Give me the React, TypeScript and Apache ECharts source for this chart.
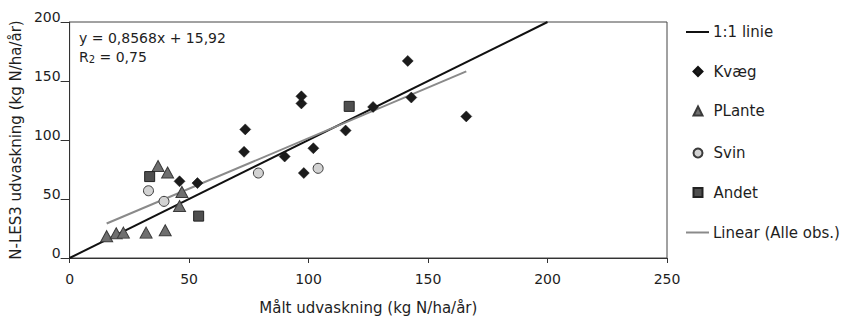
import React, { useEffect, useRef } from "react";
import * as echarts from "echarts";

// ---- data ----
const xTicks = [0, 50, 100, 150, 200, 250];
const yTicks = [0, 50, 100, 150, 200];

const kvaegX = [46, 53.5, 73, 73.5, 90, 98, 97, 97, 102, 115.5, 127, 141.5, 143, 166];
const kvaegY = [65, 63.5, 90, 109, 86, 72, 131, 137, 93, 108, 128, 167, 136, 120];

const planteX = [15.5, 19.5, 22.5, 32, 40, 37, 41, 47, 46];
const planteY = [18.5, 21, 21.5, 21.5, 23.5, 78, 72.5, 56, 44];

const svinX = [33, 39.5, 79, 104];
const svinY = [57, 48, 72, 76];

const andetX = [33.5, 54, 117];
const andetY = [69, 35.5, 128.5];

const oneToOneX = [0, 200];
const oneToOneY = [0, 200];

const linearX = [15.5, 166];
const linearY = [29.2, 158.1];

const names = ["1:1 linie", "Kvæg", "PLante", "Svin", "Andet", "Linear (Alle obs.)"];
const equationText = "y = 0,8568x + 15,92";
const r2Value = "0,75";

const FONT = "DejaVu Sans";

const zip = (xs: number[], ys: number[]) => xs.map((x, i) => [x, ys[i]]);

export default function App() {
  const ref = useRef<HTMLDivElement>(null);

  useEffect(() => {
    if (!ref.current) return;
    const chart = echarts.init(ref.current, undefined, { renderer: "svg" });

    const legendTops = [32, 71.5, 111, 153, 192.5, 232.5];
    const legends = names.map((n, i) => {
      const isLine = i === 0 || i === 5;
      const l: any = {
        data: [isLine ? { name: n, icon: "rect" } : { name: n }],
        orient: "vertical",
        left: isLine ? 686 : 692.5,
        top: legendTops[i] - 9,
        itemWidth: isLine ? 23 : 9,
        itemHeight: isLine ? 2 : 9,
        selectedMode: false,
        padding: 0,
        textStyle: {
          fontFamily: FONT,
          fontSize: 15,
          color: "#1e1e1e",
          lineHeight: 18,
          padding: isLine ? [0, 0, 0, -1] : [0, 0, 0, 6],
        },
      };
      if (isLine) l.itemStyle = { borderWidth: 0 };
      return l;
    });

    const option: any = {
      animation: false,
      backgroundColor: "#ffffff",
      grid: {
        left: 67,
        right: 175,
        top: 22,
        bottom: 58,
        show: true,
        borderColor: "#444",
        borderWidth: 1,
        backgroundColor: "transparent",
      },
      legend: legends,
      xAxis: {
        type: "value",
        min: xTicks[0],
        max: xTicks[xTicks.length - 1],
        interval: 50,
        name: "Målt udvaskning (kg N/ha/år)",
        nameLocation: "middle",
        nameGap: 42,
        nameTextStyle: { fontFamily: FONT, fontSize: 15, color: "#1e1e1e" },
        axisLine: { show: true, onZero: false, lineStyle: { color: "#333", width: 1 } },
        axisTick: { show: true, inside: false, length: 5, lineStyle: { color: "#333" } },
        axisLabel: { fontFamily: FONT, fontSize: 14, color: "#1e1e1e", margin: 14 },
        splitLine: { show: false },
      },
      yAxis: {
        type: "value",
        min: yTicks[0],
        max: yTicks[yTicks.length - 1],
        interval: 50,
        name: "N-LES3 udvaskning (kg N/ha/år)",
        nameLocation: "middle",
        nameGap: 45,
        nameTextStyle: { fontFamily: FONT, fontSize: 15, color: "#1e1e1e" },
        axisLine: { show: true, onZero: false, lineStyle: { color: "#333", width: 1 } },
        axisTick: { show: true, inside: false, length: 9, lineStyle: { color: "#333" } },
        axisLabel: {
          fontFamily: FONT,
          fontSize: 14,
          color: "#1e1e1e",
          margin: 9,
          verticalAlign: "bottom",
          lineHeight: 14,
          padding: [0, 0, -2, 0],
        },
        splitLine: { show: false },
      },
      graphic: [
        {
          type: "text",
          x: 79,
          y: 38,
          style: {
            text: equationText,
            fontFamily: FONT,
            fontSize: 14,
            fill: "#1e1e1e",
            verticalAlign: "middle",
          },
        },
        {
          type: "text",
          x: 79,
          y: 57,
          style: {
            text: "R{sub|2} = " + r2Value,
            fontFamily: FONT,
            fontSize: 14,
            fill: "#1e1e1e",
            verticalAlign: "middle",
            rich: {
              sub: {
                fontFamily: FONT,
                fontSize: 10,
                fill: "#1e1e1e",
                padding: [5, 0, 0, 0],
              },
            },
          },
        },
      ],
      series: [
        {
          name: names[0],
          type: "line",
          data: zip(oneToOneX, oneToOneY),
          symbol: "none",
          lineStyle: { color: "#111", width: 2 },
          itemStyle: { color: "#111" },
          z: 1,
        },
        {
          name: names[1],
          type: "scatter",
          data: zip(kvaegX, kvaegY),
          symbol: "diamond",
          symbolSize: [11, 11],
          itemStyle: { color: "#1b1b1b", borderColor: "#111", borderWidth: 0.5, opacity: 1 },
          z: 3,
        },
        {
          name: names[2],
          type: "scatter",
          data: zip(planteX, planteY),
          symbol: "triangle",
          symbolSize: [12, 11],
          itemStyle: { color: "#6f6f6f", borderColor: "#3a3a3a", borderWidth: 1, opacity: 1 },
          z: 3,
        },
        {
          name: names[3],
          type: "scatter",
          data: zip(svinX, svinY),
          symbol: "circle",
          symbolSize: 10,
          itemStyle: { color: "#d2d2d2", borderColor: "#3a3a3a", borderWidth: 1, opacity: 1 },
          z: 3,
        },
        {
          name: names[4],
          type: "scatter",
          data: zip(andetX, andetY),
          symbol: "rect",
          symbolSize: 10,
          itemStyle: { color: "#4f4f4f", borderColor: "#222", borderWidth: 1, opacity: 1 },
          z: 3,
        },
        {
          name: names[5],
          type: "line",
          data: zip(linearX, linearY),
          symbol: "none",
          lineStyle: { color: "#8a8a8a", width: 2 },
          itemStyle: { color: "#8a8a8a" },
          z: 2,
        },
      ],
    };

    chart.setOption(option);
    return () => chart.dispose();
  }, []);

  return (
    <div
      ref={ref}
      style={{ position: "fixed", left: 0, top: 0, width: 842, height: 320, background: "#fff" }}
    />
  );
}
